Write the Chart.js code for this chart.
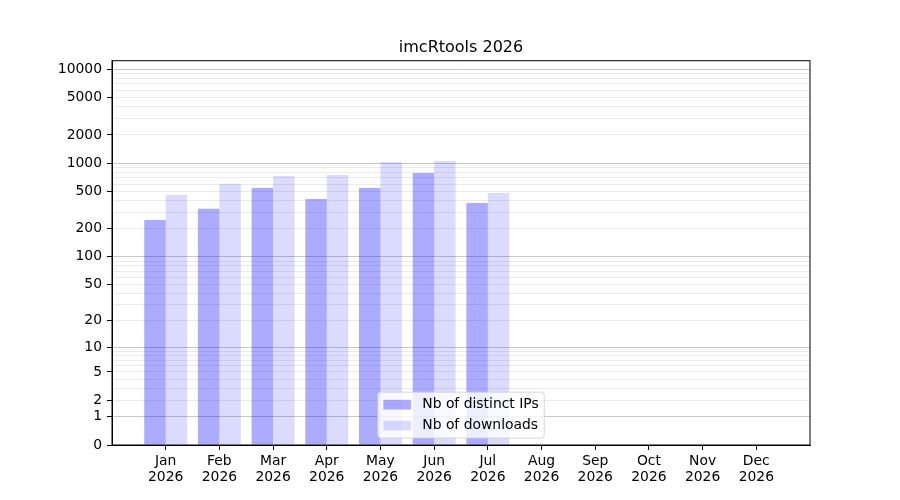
<!DOCTYPE html>
<html lang="en">
<head>
  <meta charset="UTF-8">
  <title>imcRtools 2026</title>
  <script src="https://cdn.jsdelivr.net/npm/chart.js"></script>
  <style>
    html, body {
      margin: 0;
      padding: 0;
      background: #ffffff;
    }
    #wrap {
      width: 900px;
      height: 500px;
    }
  </style>
</head>
<body>
  <div id="wrap">
    <canvas id="statsChart" width="900" height="500"></canvas>
  </div>

  <script>
    // chart values
    const months = ['Jan', 'Feb', 'Mar', 'Apr', 'May', 'Jun', 'Jul', 'Aug', 'Sep', 'Oct', 'Nov', 'Dec'];
    const year = '2026';
    const chartTitle = 'imcRtools 2026';
    const seriesLabels = ['Nb of distinct IPs', 'Nb of downloads'];
    const distinctIPs = [248, 326, 545, 416, 545, 788, 377];
    const downloads = [459, 602, 732, 750, 1032, 1058, 482];

    // y axis ticks (log10(1 + x) scale)
    const yLabelTicks = [0, 1, 2, 5, 10, 20, 50, 100, 200, 500, 1000, 2000, 5000, 10000];
    const yMajorTicks = [1, 10, 100, 1000, 10000];
    const yMinorTicks = [2, 3, 4, 5, 6, 7, 8, 9,
                         20, 30, 40, 50, 60, 70, 80, 90,
                         200, 300, 400, 500, 600, 700, 800, 900,
                         2000, 3000, 4000, 5000, 6000, 7000, 8000, 9000];
    const yMin = 0;
    const yMax = 12350;

    const FONT = "'DejaVu Sans', sans-serif";
    const FS = 13.9;

    // scale y -> log10(1 + y)
    class Log1pScale extends Chart.Scale {
      static id = 'log1p';
      static defaults = {};

      parse(raw) {
        if (raw === null || raw === undefined) return null;
        const v = +raw;
        return isFinite(v) ? v : null;
      }
      determineDataLimits() {
        this.min = this.options.min;
        this.max = this.options.max;
      }
      buildTicks() {
        const all = [0].concat(yMajorTicks, yMinorTicks).sort((a, b) => a - b);
        return all.filter(v => v >= this.min && v <= this.max).map(v => ({ value: v }));
      }
      configure() {
        super.configure();
        this._tmin = Math.log10(1 + this.min);
        this._tmax = Math.log10(1 + this.max);
      }
      getLabelForValue(v) {
        return String(v);
      }
      getPixelForValue(v) {
        const t = Math.log10(1 + Math.max(v, 0));
        return this.getPixelForDecimal((t - this._tmin) / (this._tmax - this._tmin));
      }
      getValueForPixel(p) {
        const d = this.getDecimalForPixel(p);
        return Math.pow(10, this._tmin + d * (this._tmax - this._tmin)) - 1;
      }
    }
    Chart.register(Log1pScale);

    Chart.defaults.font.family = FONT;
    Chart.defaults.color = '#000000';

    const frame = {
      id: 'frame',
      afterDatasetsDraw(chart) {
        const { ctx, chartArea: a } = chart;
        ctx.save();
        ctx.strokeStyle = '#000000';
        ctx.lineWidth = 1;
        ctx.strokeRect(a.left, a.top, a.right - a.left, a.bottom - a.top);
        ctx.restore();
      }
    };

    // center the title over the plot area, like matplotlib
    const titleOverArea = {
      id: 'titleOverArea',
      afterLayout(chart) {
        if (chart.titleBlock) {
          chart.titleBlock.left = chart.chartArea.left;
          chart.titleBlock.right = chart.chartArea.right;
          chart.titleBlock.width = chart.chartArea.right - chart.chartArea.left;
        }
      }
    };

    // legend at lower center inside the axes
    const legendBox = {
      id: 'legendBox',
      afterDraw(chart) {
        const { ctx, chartArea: a } = chart;
        const items = chart.data.datasets.map(d => ({ text: d.label, color: d.backgroundColor }));
        ctx.save();
        ctx.font = FS + 'px ' + FONT;
        const textW = Math.max(...items.map(i => ctx.measureText(i.text).width));
        const pad = 0.4 * FS, handleLen = 2 * FS, handleGap = 0.8 * FS, spacing = 0.5 * FS;
        const w = pad * 2 + handleLen + handleGap + textW;
        const h = pad * 2 + FS * items.length + spacing * (items.length - 1);
        const x = (a.left + a.right) / 2 - w / 2;
        const y = a.bottom - 0.5 * FS - h;

        ctx.beginPath();
        ctx.roundRect(x, y, w, h, 3);
        ctx.fillStyle = 'rgba(255,255,255,0.8)';
        ctx.fill();
        ctx.strokeStyle = 'rgba(204,204,204,0.8)';
        ctx.lineWidth = 1;
        ctx.stroke();

        items.forEach((it, i) => {
          const cy = y + pad + i * (FS + spacing) + FS / 2;
          ctx.fillStyle = it.color;
          ctx.fillRect(x + pad, cy - 0.35 * FS, handleLen, 0.7 * FS);
          ctx.fillStyle = '#000000';
          ctx.textBaseline = 'middle';
          ctx.textAlign = 'left';
          ctx.fillText(it.text, x + pad + handleLen + handleGap, cy);
        });
        ctx.restore();
      }
    };

    const ipPoints = distinctIPs.map((v, i) => ({ x: i + 1, y: v }));
    const dlPoints = downloads.map((v, i) => ({ x: i + 1, y: v }));

    new Chart(document.getElementById('statsChart'), {
      type: 'bar',
      data: {
        datasets: [
          {
            label: seriesLabels[0],
            data: ipPoints,
            backgroundColor: 'rgba(0,0,255,0.33)',
            borderWidth: 0,
            categoryPercentage: 0.8,
            barPercentage: 1.0
          },
          {
            label: seriesLabels[1],
            data: dlPoints,
            backgroundColor: 'rgba(0,0,255,0.14)',
            borderWidth: 0,
            categoryPercentage: 0.8,
            barPercentage: 1.0
          }
        ]
      },
      options: {
        responsive: false,
        animation: false,
        layout: { padding: { left: 0, right: 90, top: 0, bottom: 0 } },
        plugins: {
          legend: { display: false },
          tooltip: { enabled: false },
          title: {
            display: true,
            text: chartTitle,
            color: '#000000',
            font: { size: 16, weight: 'normal', family: FONT },
            padding: { top: 38, bottom: 3.5 }
          }
        },
        scales: {
          x: {
            type: 'linear',
            min: 0,
            max: 13,
            offset: false,
            afterBuildTicks: scale => {
              scale.ticks = months.map((m, i) => ({ value: i + 1 }));
            },
            afterFit: scale => { scale.height = 55; },
            grid: { offset: false, drawOnChartArea: false, tickLength: 5, tickColor: '#000000' },
            border: { color: '#000000', width: 1 },
            ticks: {
              autoSkip: false,
              maxRotation: 0,
              padding: 4,
              color: '#000000',
              font: { size: FS, lineHeight: 1.12 },
              callback: value => [months[value - 1], year]
            }
          },
          y: {
            type: 'log1p',
            min: yMin,
            max: yMax,
            afterFit: scale => { scale.width = 112; },
            grid: {
              lineWidth: 1,
              tickLength: 5,
              color: c => {
                const v = c.tick ? c.tick.value : null;
                if (v === 0) return 'rgba(0,0,0,0)';
                return yMajorTicks.includes(v) ? 'rgba(176,176,176,0.7)' : 'rgba(176,176,176,0.25)';
              },
              tickColor: c => (c.tick && yLabelTicks.includes(c.tick.value)) ? '#000000' : 'rgba(0,0,0,0)'
            },
            border: { color: '#000000', width: 1 },
            ticks: {
              autoSkip: false,
              padding: 5,
              color: '#000000',
              font: { size: FS },
              callback: value => yLabelTicks.includes(value) ? String(value) : ''
            }
          }
        }
      },
      plugins: [frame, titleOverArea, legendBox]
    });
  </script>
</body>
</html>
